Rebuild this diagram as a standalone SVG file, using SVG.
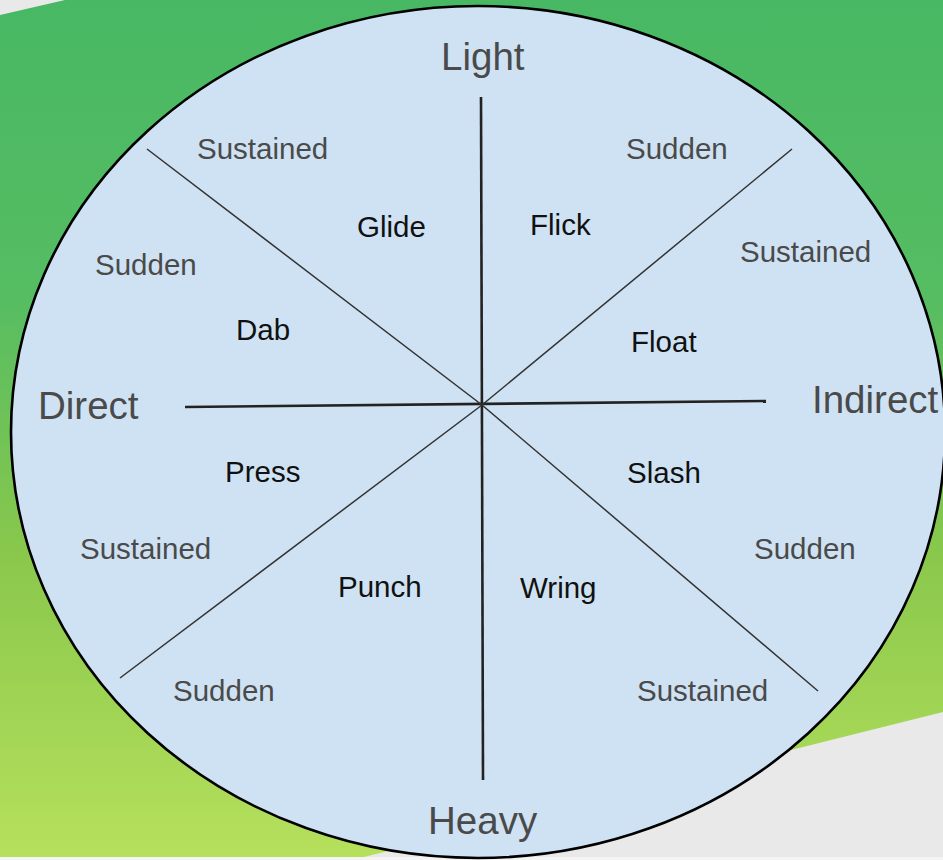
<svg xmlns="http://www.w3.org/2000/svg" width="943" height="860" viewBox="0 0 943 860">
<defs>
<linearGradient id="bg" x1="0" y1="0" x2="0" y2="1">
<stop offset="0" stop-color="#48b864"/>
<stop offset="0.35" stop-color="#56bd62"/>
<stop offset="0.65" stop-color="#8ac84c"/>
<stop offset="1" stop-color="#b6e05c"/>
</linearGradient>
<style>
.ax{font-family:"Liberation Sans",Arial,sans-serif;font-size:38.5px;fill:#4a4a4a}
.q{font-family:"Liberation Sans",Arial,sans-serif;font-size:29.5px;fill:#4a4a4a}
.e{font-family:"Liberation Sans",Arial,sans-serif;font-size:29.5px;fill:#111}
.thick{stroke:#222;stroke-width:2.6;fill:none}
.thin{stroke:#333;stroke-width:1.5;fill:none}
</style>
</defs>
<g id="background">
<rect x="0" y="0" width="943" height="860" fill="#e9e9e9"/>
<polygon points="0,15 65,0 943,0 943,712 360,858 0,858" fill="url(#bg)"/>
<rect x="0" y="857" width="943" height="3" fill="#f4f4f4"/>
</g>
<g id="wheel">
<ellipse cx="478" cy="432" rx="467" ry="426" fill="#cfe2f3" stroke="#000" stroke-width="2.6"/>
</g>
<g id="connectors">
<line class="thick" x1="481" y1="97" x2="483" y2="780"/>
<line class="thick" x1="185" y1="407" x2="766" y2="401"/>
<polyline class="thin" points="147,149 482,405 818,691"/>
<polyline class="thin" points="792,149 482,405 120,678"/>
</g>
<g id="axis-labels">
<text class="ax" x="441" y="70">Light</text>
<text class="ax" x="428" y="834">Heavy</text>
<text class="ax" x="38" y="419">Direct</text>
<text class="ax" x="812" y="413">Indirect</text>
</g>
<g id="quality-labels">
<text class="q" x="197" y="159">Sustained</text>
<text class="q" x="626" y="159">Sudden</text>
<text class="q" x="95" y="275">Sudden</text>
<text class="q" x="740" y="262">Sustained</text>
<text class="q" x="80" y="559">Sustained</text>
<text class="q" x="754" y="559">Sudden</text>
<text class="q" x="173" y="701">Sudden</text>
<text class="q" x="637" y="701">Sustained</text>
</g>
<g id="efforts">
<text class="e" x="357" y="237">Glide</text>
<text class="e" x="530" y="235">Flick</text>
<text class="e" x="236" y="340">Dab</text>
<text class="e" x="631" y="352">Float</text>
<text class="e" x="225" y="482">Press</text>
<text class="e" x="627" y="483">Slash</text>
<text class="e" x="338" y="597">Punch</text>
<text class="e" x="520" y="598">Wring</text>
</g>
</svg>
